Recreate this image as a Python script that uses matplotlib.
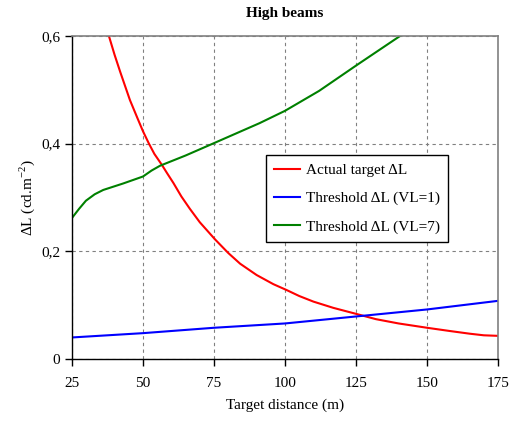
import matplotlib
matplotlib.use("Agg")
import matplotlib.pyplot as plt
from matplotlib.ticker import FuncFormatter

plt.rcParams['font.family'] = ['Liberation Serif', 'DejaVu Serif']
plt.rcParams['mathtext.fontset'] = 'custom'
plt.rcParams['mathtext.rm'] = 'Liberation Serif'

# Actual target ΔL
red_x = [38, 40, 42, 45.4, 48, 50, 52, 54, 56.6, 58.5, 60.7, 63.5, 66.5, 70, 75.4, 80, 84.2, 90, 95.9, 100.6, 105, 110, 117, 125.2, 132, 140, 150, 158, 165, 170, 175]
red_y = [0.600, 0.565, 0.533, 0.481, 0.448, 0.423, 0.401, 0.381, 0.361, 0.345, 0.327, 0.302, 0.279, 0.254, 0.222, 0.197, 0.177, 0.156, 0.139, 0.128, 0.117, 0.1066, 0.095, 0.0836, 0.074, 0.066, 0.058, 0.052, 0.047, 0.044, 0.043]

# Threshold ΔL (VL=1)
blue_x = [25, 50, 75, 100, 125, 150, 175]
blue_y = [0.040, 0.048, 0.058, 0.066, 0.079, 0.092, 0.108]

# Threshold ΔL (VL=7)
green_x = [25, 27.5, 29.9, 33, 36, 43, 50, 53, 56, 65, 75, 91, 100, 112, 125, 140.5]
green_y = [0.262, 0.279, 0.294, 0.306, 0.314, 0.326, 0.339, 0.350, 0.359, 0.378, 0.401, 0.438, 0.461, 0.498, 0.545, 0.60]

xticks = [25, 50, 75, 100, 125, 150, 175]
yticks = [0, 0.2, 0.4, 0.6]

fig = plt.figure(figsize=(5.12, 4.26), dpi=100)
ax = fig.add_axes([0.1406, 0.1573, 0.8321, 0.7582])

ax.plot(red_x, red_y, color='#ff0000', lw=1.5, label='Actual target ΔL')
ax.plot(blue_x, blue_y, color='#0000ff', lw=1.5, label='Threshold ΔL (VL=1)')
ax.plot(green_x, green_y, color='#008000', lw=1.5, label='Threshold ΔL (VL=7)')

ax.set_xlim(25, 175)
ax.set_ylim(0, 0.6)
ax.set_xticks(xticks)
ax.set_yticks(yticks)
ax.yaxis.set_major_formatter(FuncFormatter(lambda v, p: '0' if v == 0 else f'{v:.1f}'.replace('.', ',')))
ax.grid(True, color='#808080', linestyle=(0, (3, 3)), linewidth=0.8)
ax.tick_params(direction='out', length=5, width=1, labelsize=11, colors='black')
ax.tick_params(axis='x', pad=8)
for s in ['top', 'right']:
    ax.spines[s].set_color('#808080')
    ax.spines[s].set_linewidth(1.2)
for s in ['left', 'bottom']:
    ax.spines[s].set_color('black')
    ax.spines[s].set_linewidth(1.0)

ax.set_xlabel('Target distance (m)', fontsize=11, labelpad=6)
ax.set_ylabel('ΔL (cd.m$^{-2}$)', fontsize=11, labelpad=3)
ax.set_title('High beams', fontsize=11, fontweight='bold', pad=14)

leg = ax.legend(loc='upper left', bbox_to_anchor=(0.455, 0.632), fontsize=11, frameon=True,
                fancybox=False, edgecolor='black', framealpha=1, handlelength=1.7,
                handletextpad=0.35, borderaxespad=0, borderpad=0.55, labelspacing=0.95)
leg.get_frame().set_linewidth(1.0)

fig.savefig('out.png', dpi=100)
